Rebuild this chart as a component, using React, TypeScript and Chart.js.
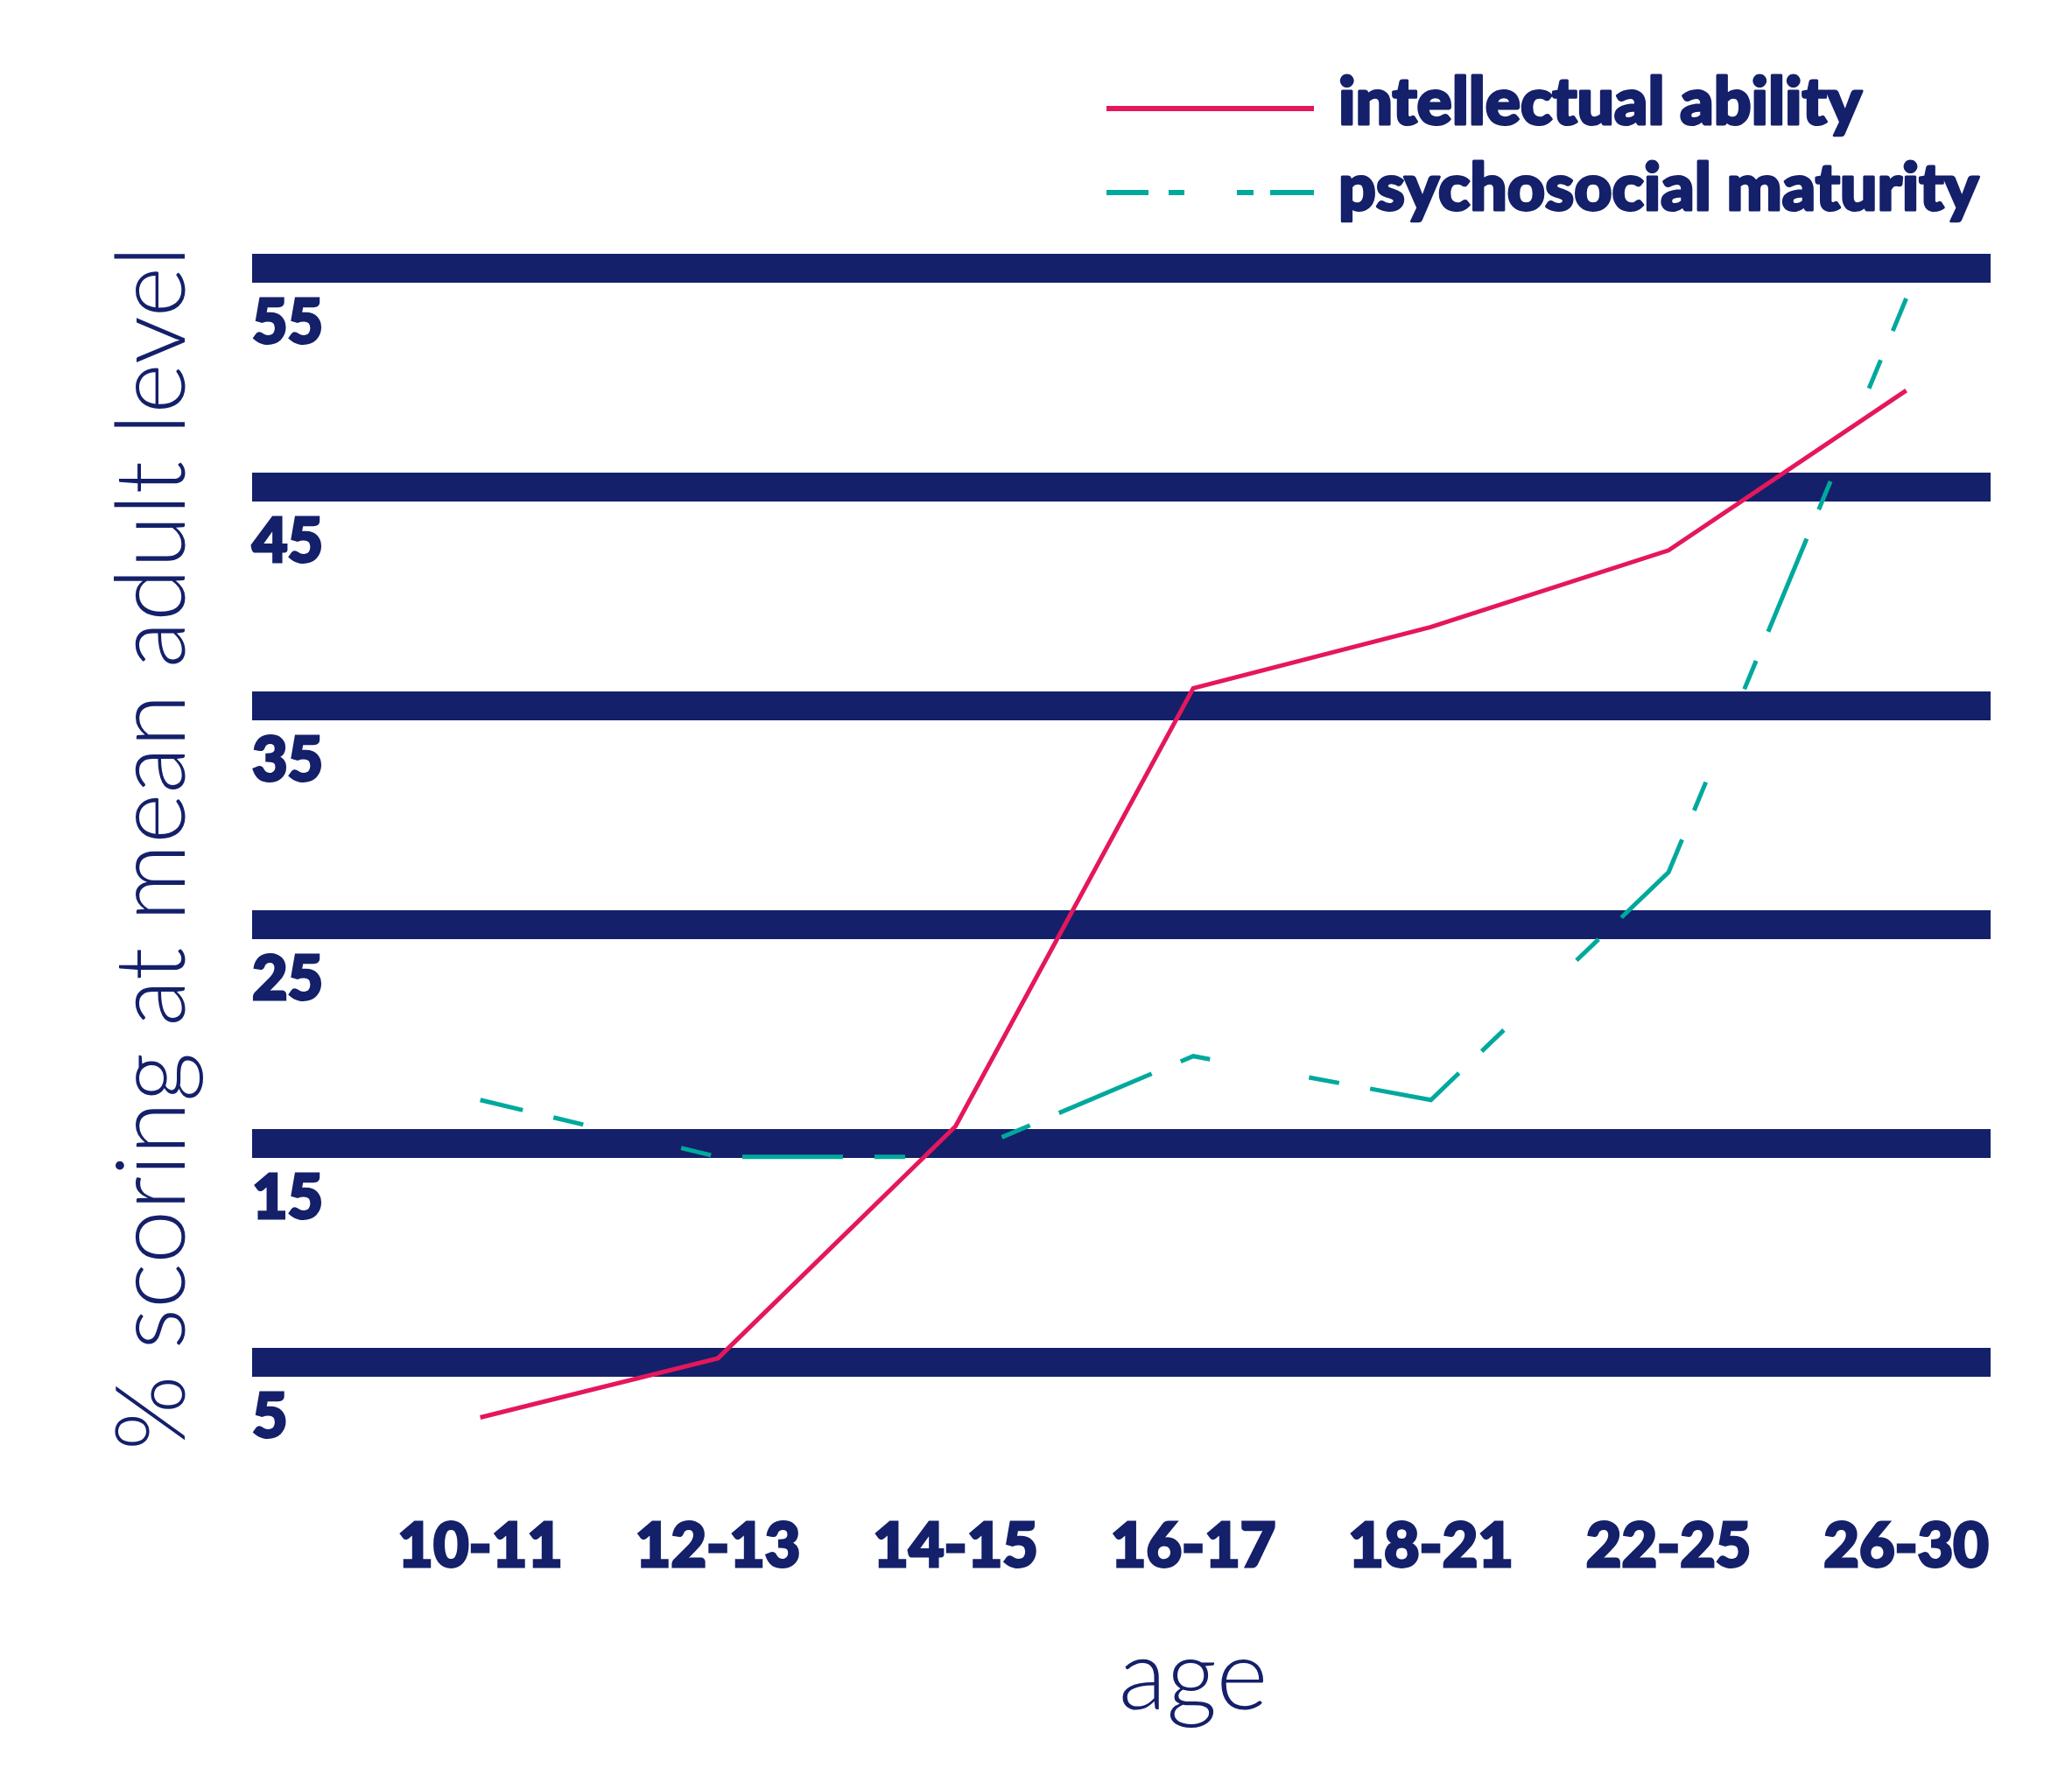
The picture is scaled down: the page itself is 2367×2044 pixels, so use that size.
import { useEffect, useRef } from "react"
import { Chart, registerables } from "chart.js"

Chart.register(...registerables)

const ageGroups = ["10-11", "12-13", "14-15", "16-17", "18-21", "22-25", "26-30"]

// % scoring at mean adult level
const intellectualAbility = [2.5, 5.2, 15.8, 35.8, 38.6, 42.1, 49.4]
const psychosocialMaturity = [17.0, 14.4, 14.4, 19.0, 17.0, 27.4, 53.6]

const yTicks = [5, 15, 25, 35, 45, 55]

const NAVY = "#14206a"
const RED = "#e5175c"
const TEAL = "#00a99d"
const FONT = "Lato, 'Open Sans', sans-serif"

// legend drawn in two stacked rows + x title under the middle age group
const legendAndAge = {
  id: "legendAndAge",
  afterDraw(chart: any) {
    const { ctx, chartArea } = chart
    const sets = chart.data.datasets
    const rows = [
      { y: 124, base: 142, dash: [] as number[], ds: sets[0] },
      { y: 220, base: 240, dash: [48, 23, 18, 60, 19, 19, 50, 200], ds: sets[1] },
    ]
    ctx.save()
    rows.forEach((r) => {
      ctx.beginPath()
      ctx.setLineDash(r.dash)
      ctx.lineWidth = 6
      ctx.strokeStyle = r.ds.borderColor
      ctx.moveTo(1264, r.y)
      ctx.lineTo(1501, r.y)
      ctx.stroke()
      ctx.setLineDash([])
      ctx.fillStyle = NAVY
      ctx.strokeStyle = NAVY
      ctx.lineWidth = 3
      ctx.lineJoin = "round"
      ctx.font = `900 75px ${FONT}`
      ctx.textAlign = "left"
      ctx.textBaseline = "alphabetic"
      ctx.strokeText(r.ds.label, 1529, r.base)
      ctx.fillText(r.ds.label, 1529, r.base)
    })

    const mid = (ageGroups.length - 1) / 2
    ctx.font = `300 113px ${FONT}`
    ctx.textAlign = "center"
    ctx.fillStyle = NAVY
    ctx.fillText("age", chart.scales.x.getPixelForValue(mid), chartArea.bottom + 271)
    ctx.restore()
  },
}

export default function AdultLevelChart() {
  const chartRef = useRef<HTMLCanvasElement>(null)
  const chartInstance = useRef<Chart | null>(null)

  useEffect(() => {
    document.body.style.margin = "0"
    if (!chartRef.current) return
    const ctx = chartRef.current.getContext("2d")
    if (!ctx) return
    if (chartInstance.current) chartInstance.current.destroy()

    chartInstance.current = new Chart(ctx, {
      type: "line",
      data: {
        datasets: [
          {
            label: "intellectual ability",
            data: intellectualAbility.map((y, i) => ({ x: i, y })),
            borderColor: RED,
            borderWidth: 5,
            pointRadius: 0,
            tension: 0,
            borderJoinStyle: "miter",
          },
          {
            label: "psychosocial maturity",
            data: psychosocialMaturity.map((y, i) => ({ x: i, y })),
            borderColor: TEAL,
            borderWidth: 5,
            borderDash: [115, 36, 35, 115, 35, 36],
            borderDashOffset: 65,
            pointRadius: 0,
            tension: 0,
            borderJoinStyle: "miter",
          },
        ],
      },
      options: {
        animation: false,
        responsive: true,
        maintainAspectRatio: false,
        layout: { padding: { left: 110, top: 256, right: 93, bottom: 192 } },
        plugins: {
          legend: { display: false },
          tooltip: { enabled: false },
        },
        scales: {
          x: {
            type: "linear",
            min: -0.96,
            max: 6.355,
            afterBuildTicks: (axis: any) => {
              axis.ticks = ageGroups.map((_, i) => ({ value: i }))
            },
            grid: { display: false, drawTicks: false },
            border: { display: false },
            ticks: {
              autoSkip: false,
              maxRotation: 0,
              padding: 43,
              color: NAVY,
              textStrokeColor: NAVY,
              textStrokeWidth: 3,
              font: { family: FONT, size: 70, weight: 900 },
              callback: (value: any) => ageGroups[value] ?? "",
            },
          },
          y: {
            min: 0,
            max: 57,
            afterBuildTicks: (axis: any) => {
              axis.ticks = yTicks.map((v) => ({ value: v }))
            },
            grid: { color: NAVY, lineWidth: 33, drawTicks: false },
            border: { display: false },
            ticks: {
              mirror: true,
              padding: 0,
              labelOffset: 63,
              color: NAVY,
              textStrokeColor: NAVY,
              textStrokeWidth: 3,
              font: { family: FONT, size: 70, weight: 900 },
            },
            title: {
              display: true,
              text: "% scoring at mean adult level",
              color: NAVY,
              font: { family: FONT, size: 110, weight: 300 },
              padding: { top: 0, bottom: 46 },
            },
          },
        },
      },
      plugins: [legendAndAge],
    })

    return () => {
      if (chartInstance.current) chartInstance.current.destroy()
      chartInstance.current = null
    }
  }, [])

  return (
    <div style={{ width: "2367px", height: "2044px", position: "relative" }}>
      <canvas ref={chartRef}></canvas>
    </div>
  )
}
